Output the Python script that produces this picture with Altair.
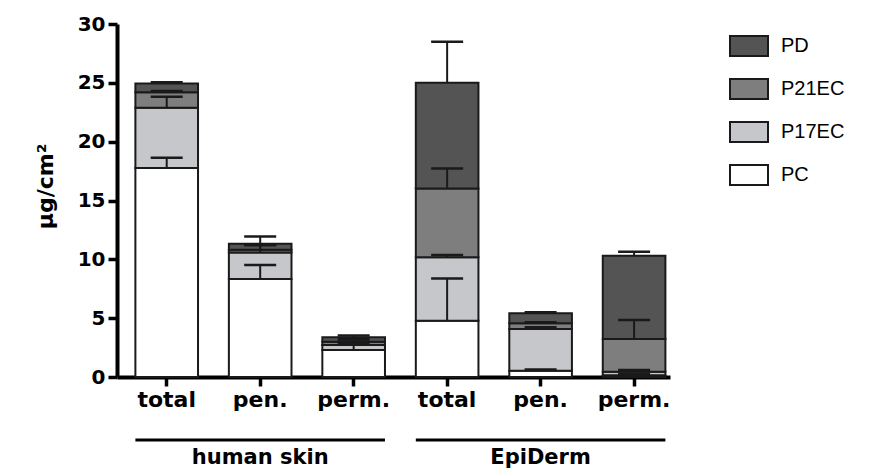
import altair as alt
import pandas as pd

# Bars: skin model and sample type
groups = ["human skin", "human skin", "human skin", "EpiDerm", "EpiDerm", "EpiDerm"]
samples = ["total", "pen.", "perm.", "total", "pen.", "perm."]

# Stacked components (µg/cm²), bottom to top, with their SD
components = ["PC", "P17EC", "P21EC", "PD"]
pc = [17.76, 8.33, 2.30, 4.78, 0.54, 0.15]
pc_sd = [0.87, 1.19, 0.50, 3.60, 0.10, 0.10]
p17ec = [5.12, 2.26, 0.42, 5.39, 3.54, 0.30]
p17ec_sd = [0.93, 0.62, 0.30, 0.20, 0.15, 0.15]
p21ec = [1.31, 0.23, 0.28, 5.86, 0.48, 2.78]
p21ec_sd = [0.11, 0.40, 0.20, 1.70, 0.10, 1.61]
pd_ = [0.76, 0.51, 0.38, 8.97, 0.85, 7.08]
pd_sd = [0.10, 0.62, 0.15, 3.50, 0.10, 0.34]

legend_order = ["PD", "P21EC", "P17EC", "PC"]
legend_colors = ["#545454", "#7e7e7e", "#c6c7cb", "#ffffff"]

y_ticks = [0, 5, 10, 15, 20, 25, 30]

keys = [f"{g}|{s}" for g, s in zip(groups, samples)]
values = {"PC": pc, "P17EC": p17ec, "P21EC": p21ec, "PD": pd_}
sds = {"PC": pc_sd, "P17EC": p17ec_sd, "P21EC": p21ec_sd, "PD": pd_sd}

rows = []
for i, k in enumerate(keys):
    base = 0.0
    for c in components:
        top = base + values[c][i]
        rows.append({"key": k, "component": c, "y0": base, "y1": top,
                     "err": top + sds[c][i]})
        base = top
df = pd.DataFrame(rows)

group_names = ["human skin", "EpiDerm"]
group_df = pd.DataFrame({
    "group": group_names,
    "start": [keys[0], keys[3]],
    "mid": [keys[1], keys[4]],
    "end": [keys[2], keys[5]],
})

BOLD_FONT = "DejaVu Sans"
LEGEND_FONT = "Liberation Sans"
INK = "#1a1a1a"
W = 553
H = 353

x_scale = alt.Scale(domain=keys, paddingInner=0.33, paddingOuter=0.123,
                    align=0.8)

bars = alt.Chart(df).mark_bar(stroke=INK, strokeWidth=2).encode(
    x=alt.X("key:N", scale=x_scale, sort=keys,
            axis=alt.Axis(title=None, labelAngle=0,
                          labelExpr="split(datum.value, '|')[1]")),
    y=alt.Y("y0:Q", scale=alt.Scale(domain=[0, 30], nice=False),
            title="µg/cm²",
            axis=alt.Axis(values=y_ticks, title="µg/cm²", titlePadding=20,
                          titleY=162)),
    y2="y1:Q",
    fill=alt.Fill("component:N",
                  scale=alt.Scale(domain=legend_order, range=legend_colors),
                  legend=alt.Legend(
                      title=None, orient="none", legendX=612, legendY=2,
                      symbolType="M-1,-0.53H1V0.53H-1Z", symbolSize=1444,
                      symbolStrokeColor=INK, symbolStrokeWidth=2,
                      symbolOpacity=1,
                      labelFont=LEGEND_FONT, labelFontSize=20,
                      labelColor="black",
                      labelOffset=12, rowPadding=8, padding=0)),
    order=alt.Order("y0:Q"),
)

stems = alt.Chart(df).mark_rule(color=INK, strokeWidth=2).encode(
    x=alt.X("key:N"),
    y=alt.Y("y1:Q"),
    y2="err:Q",
)

caps = alt.Chart(df).mark_tick(orient="horizontal", color=INK, thickness=2.5,
                               size=32, opacity=1).encode(
    x=alt.X("key:N"),
    y=alt.Y("err:Q"),
)

group_lines = alt.Chart(group_df).mark_rule(color="black", strokeWidth=3).encode(
    x=alt.X("start:N", bandPosition=0),
    x2=alt.X2("end", bandPosition=1),
    y=alt.value(H + 63),
)

group_labels = alt.Chart(group_df).mark_text(
    font=BOLD_FONT, fontSize=21, fontWeight="bold", color="black",
    baseline="middle").encode(
    x=alt.X("mid:N"),
    y=alt.value(H + 81),
    text="group:N",
)

chart = alt.layer(bars, stems, caps, group_lines, group_labels).properties(
    width=W, height=H,
    autosize="none",
    padding={"left": 117, "top": 24, "right": 882 - 117 - W, "bottom": 94},
).configure_view(stroke=None).configure_axis(
    grid=False,
    domainColor="black", domainWidth=4,
    tickColor="black", tickWidth=3.5, tickSize=9,
    labelFont=BOLD_FONT, labelFontWeight="bold",
    labelColor="black", labelPadding=3,
    titleFont=BOLD_FONT, titleFontSize=22, titleFontWeight="bold",
    titleColor="black",
).configure_axisX(labelFontSize=22).configure_axisY(labelFontSize=20)

chart.save("out.html", embed_options={"renderer": "svg", "actions": False})
